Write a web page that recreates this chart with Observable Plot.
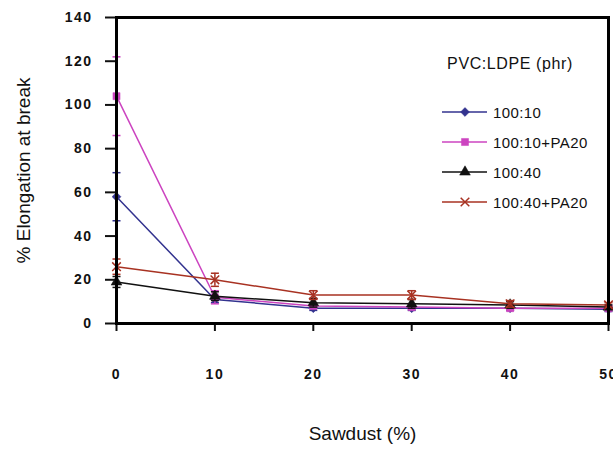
<!DOCTYPE html>
<html><head><meta charset="utf-8">
<script src="https://cdn.jsdelivr.net/npm/d3@7"></script>
<script src="https://cdn.jsdelivr.net/npm/@observablehq/plot@0.6"></script>
<style>
body{margin:0;background:#fff;}
#wrap{position:relative;width:613px;height:450px;font-family:"Liberation Sans",Arial,sans-serif;overflow:hidden;}
#legend{position:absolute;left:0;top:0;pointer-events:none;}
</style></head><body><div id="wrap"></div>
<script>
const sawdust = [0, 10, 20, 30, 40, 50];
const seriesNames = ["100:10", "100:10+PA20", "100:40", "100:40+PA20"];
const colors = ["#33338f", "#cc44c0", "#111111", "#a83222"];
const symbolNames = ["diamond2", "square", "triangle", "times"];
const v1010 = [58, 11, 7, 7, 7, 6.5];
const v1010pa = [104, 12, 8, 7.5, 7, 7];
const v1040 = [19, 12.5, 9.5, 9, 8.5, 7.5];
const v1040pa = [26, 20, 13, 13, 9, 8.5];
const e1010 = [11, 1.5, 1, 1, 1, 1];
const e1010pa = [18, 3, 1, 1, 1, 1];
const e1040 = [2.5, 2, 2, 2, 1.5, 1];
const e1040pa = [3.5, 3, 2, 2, 1.5, 1];
const yTicks = [0, 20, 40, 60, 80, 100, 120, 140];
const xTicks = [0, 10, 20, 30, 40, 50];
const legendTitle = "PVC:LDPE (phr)";
const xTitle = "Sawdust (%)";
const yTitle = "% Elongation at break";

const values = [v1010, v1010pa, v1040, v1040pa];
const errors = [e1010, e1010pa, e1040, e1040pa];
const rows = seriesNames.flatMap((s, i) => sawdust.map((x, j) => ({
  series: s, x, y: values[i][j], lo: values[i][j] - errors[i][j], hi: values[i][j] + errors[i][j]
})));
const cap = {draw(ctx) { ctx.moveTo(-4, 0); ctx.lineTo(4, 0); }};

const marks = [];
seriesNames.forEach((s, i) => {
  const d = rows.filter(r => r.series === s);
  const c = colors[i];
  marks.push(Plot.line(d, {x: "x", y: "y", stroke: c, strokeWidth: 1.5}));
  marks.push(Plot.ruleX(d, {x: "x", y1: "lo", y2: "hi", stroke: c, strokeWidth: 1.5}));
  marks.push(Plot.dot(d, {x: "x", y: "lo", symbol: cap, stroke: c, strokeWidth: 1.5}));
  marks.push(Plot.dot(d, {x: "x", y: "hi", symbol: cap, stroke: c, strokeWidth: 1.5}));
  const isX = symbolNames[i] === "times";
  marks.push(Plot.dot(d, {x: "x", y: "y", symbol: symbolNames[i], r: 4,
    fill: isX ? "none" : c, stroke: c, strokeWidth: isX ? 1.5 : 0.5}));
});

const chart = Plot.plot({
  width: 613, height: 450,
  marginLeft: 116, marginRight: 5, marginTop: 17, marginBottom: 127,
  style: {fontFamily: "Liberation Sans, Arial, sans-serif", fontSize: "14px", color: "#111", background: "#fff"},
  x: {domain: [0, 50], label: null},
  y: {domain: [0, 140], label: null},
  marks: [
    Plot.axisY({ticks: yTicks, tickSize: 11, tickPadding: 13, fontWeight: "bold", fontSize: 14, strokeWidth: 2, label: null}),
    Plot.axisX({ticks: xTicks, tickSize: 8, tickPadding: 38, fontWeight: "bold", fontSize: 14, strokeWidth: 2, label: null}),
    Plot.text([yTitle], {text: d => d, frameAnchor: "left", textAnchor: "middle", rotate: -90, dx: -93, fontSize: 19}),
    Plot.text([xTitle], {text: d => d, frameAnchor: "bottom", dy: 116, fontSize: 19}),
    ...marks,
    Plot.frame({stroke: "#000", strokeWidth: 3})
  ]
});
chart.querySelectorAll('[aria-label="y-axis tick label"] text, [aria-label="x-axis tick label"] text').forEach(t => t.setAttribute("letter-spacing", "1.5"));
const wrap = document.getElementById("wrap");
wrap.appendChild(chart);

// legend overlay
const lg = d3.create("svg").attr("id", "legend").attr("width", 613).attr("height", 450)
  .style("font-family", "Liberation Sans, Arial, sans-serif");
lg.append("text").attr("x", 510).attr("y", 69).attr("text-anchor", "middle")
  .attr("font-size", 16).attr("letter-spacing", 0.6).attr("fill", "#111").text(legendTitle);
const d3sym = {diamond2: d3.symbolDiamond2, square: d3.symbolSquare, triangle: d3.symbolTriangle, times: d3.symbolTimes};
seriesNames.forEach((s, i) => {
  const cy = 112 + i * 30;
  const g = lg.append("g").attr("transform", `translate(0,${cy})`);
  g.append("line").attr("x1", 442).attr("x2", 487).attr("stroke", colors[i]).attr("stroke-width", 1.5);
  const isX = symbolNames[i] === "times";
  g.append("path").attr("transform", "translate(465,0)")
    .attr("d", d3.symbol(d3sym[symbolNames[i]], 50)())
    .attr("fill", isX ? "none" : colors[i]).attr("stroke", colors[i]).attr("stroke-width", isX ? 1.5 : 0.5);
  g.append("text").attr("x", 493).attr("y", 5.5).attr("font-size", 15).attr("letter-spacing", 0.4)
    .attr("fill", "#111").text(s);
});
wrap.appendChild(lg.node());
</script></body></html>
